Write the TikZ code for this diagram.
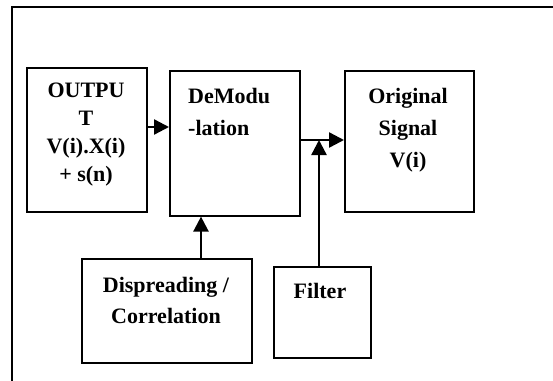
\documentclass[tikz,border=0pt]{standalone}
\usepackage{fontspec}
\setmainfont{Liberation Serif}
\usetikzlibrary{arrows.meta}
\begin{document}
\begin{tikzpicture}[x=1pt,y=-1pt,
  box/.style={draw=black,line width=1.6pt,inner sep=0pt,anchor=north west},
  txt/.style={inner sep=0pt,font=\bfseries\fontsize{22}{28}\selectfont},
  arr/.style={line width=2.4pt,-{Triangle[length=15pt,width=15pt]}}]
\useasboundingbox (0,0) rectangle (553,380);
\draw[line width=2pt] (11.5,381) -- (11.5,6.5) -- (554,6.5);
% boxes
\node[box,minimum width=120pt,minimum height=144pt] (out) at (26,67) {};
\node[box,minimum width=130pt,minimum height=145pt] (dem) at (169,70) {};
\node[box,minimum width=129pt,minimum height=141pt] (orig) at (344,70) {};
\node[box,minimum width=170pt,minimum height=104pt] (disp) at (81,258) {};
\node[box,minimum width=97pt,minimum height=91pt] (filt) at (273,266) {};
% texts (anchor base = baseline of last line)
\node[txt,align=center,anchor=base] (outT) at (86,181) {OUTPU\\T\\V(i).X(i)\\+ s(n)};
\node[txt,align=left,anchor=base west,font=\bfseries\fontsize{22}{32}\selectfont] (demT) at (188,135) {DeModu\\-lation};
\node[txt,align=center,anchor=base,font=\bfseries\fontsize{22}{32}\selectfont] (origT) at (408,167) {Original\\Signal\\V(i)};
\node[txt,align=center,anchor=base,font=\bfseries\fontsize{22}{31}\selectfont] (dispT) at (166,323) {Dispreading /\\Correlation};
\node[txt,anchor=base] (filtT) at (320,298) {Filter};
% connectors
\coordinate (j) at (319,140);
\coordinate (a1) at (146,127);
\coordinate (d1) at (201,258);
\draw[arr] (out.east |- a1) -- (dem.west |- a1);
\draw[arr] (dem.east |- j) -- (orig.west |- j);
\draw[arr] (filt.north -| j) -- (j);
\draw[arr] (disp.north -| d1) -- (dem.south -| d1);
\end{tikzpicture}
\end{document}
